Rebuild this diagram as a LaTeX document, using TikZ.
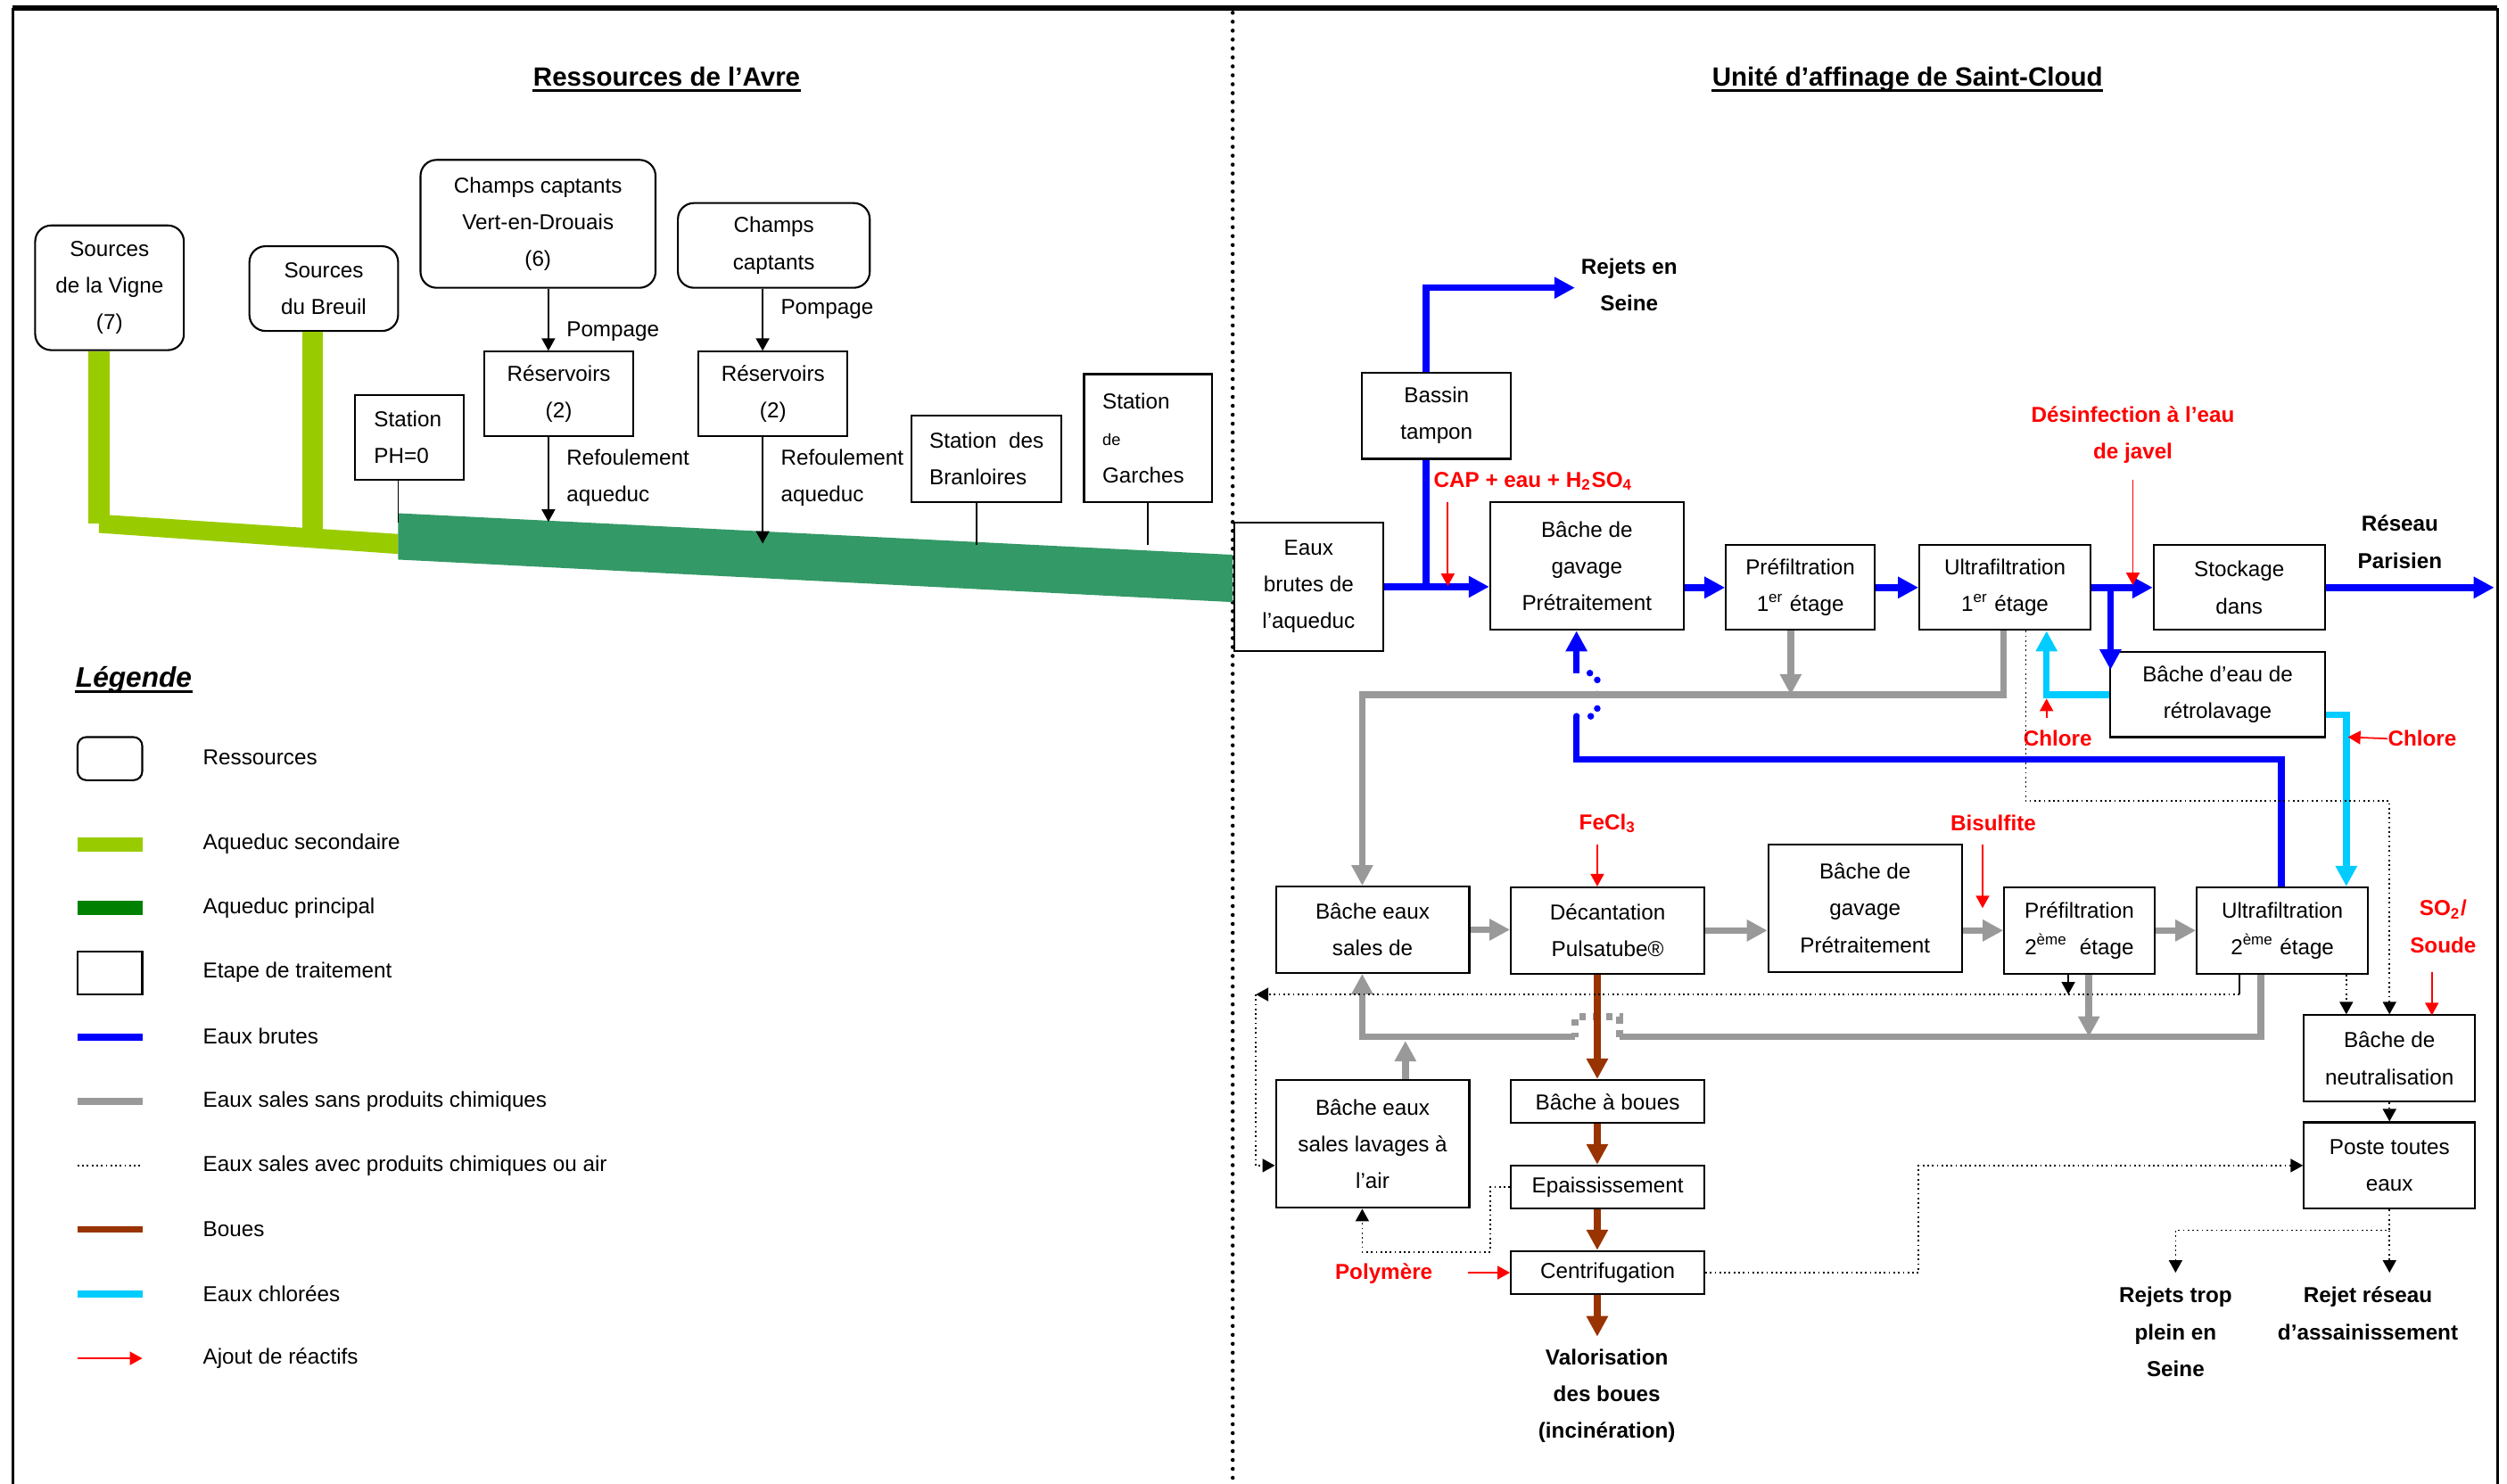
\documentclass[tikz,border=0pt]{standalone}
\usepackage{fontspec}
\setmainfont{Liberation Sans}
\usetikzlibrary{arrows.meta}
\def\u{0.17927mm}
\definecolor{lgreen}{HTML}{99CC00}
\definecolor{mgreen}{HTML}{339966}
\definecolor{dgreen}{HTML}{008000}
\definecolor{fblue}{HTML}{0000FF}
\definecolor{fgray}{HTML}{999999}
\definecolor{fbrown}{HTML}{993300}
\definecolor{fcyan}{HTML}{00CCFF}
\definecolor{fred}{HTML}{FF0000}
\newcommand\boxfont{\fontsize{6.9}{11.73}\selectfont}
\begin{document}
\begin{tikzpicture}[x=0.17927mm, y=-0.17927mm,
  box/.style={draw, line width=0.6pt, inner sep=0pt, align=center, font=\boxfont},
  rbox/.style={box, rounded corners=1.8mm},
  lbox/.style={draw, line width=0.6pt, inner ysep=0pt, align=left, font=\boxfont},
  wh/.style 2 args={minimum width=#1*\u, minimum height=#2*\u},
  lab/.style={inner sep=0pt, align=center, font=\boxfont\bfseries},
  rlab/.style={lab, text=fred},
  txt/.style={inner sep=0pt, align=left, font=\boxfont},
  pipe/.style={line width=0.75mm},
  flow/.style={line width=0.75mm, -{Triangle[length=2.3mm,width=2.3mm]}},
  wb/.style={draw=fblue},
  ws/.style={draw=fgray},
  wm/.style={draw=fbrown},
  wc/.style={draw=fcyan},
  tarr/.style={line width=0.5pt, -{Triangle[length=1.4mm,width=1.5mm]}},
  tred/.style={draw=fred, fill=fred, line width=0.5pt, -{Triangle[length=1.4mm,width=1.5mm]}},
  dotl/.style={line width=0.5pt, dash pattern=on 0.5pt off 1pt},
  divider/.style={line width=1.3pt, line cap=round, dash pattern=on 0pt off 2.85pt},
  title/.style={inner sep=0pt, anchor=base, font=\fontsize{8.4}{10}\selectfont\bfseries}
]
\fill[white] (0,0) rectangle (1568,928);
\useasboundingbox (0,0) rectangle (1568,928);

% ---------- frame and separator ----------
\draw[line width=1.5pt] (8,5) -- (1562,5);
\draw[line width=1pt] (8,5) -- (8,928);
\draw[line width=1pt] (1562,5) -- (1562,928);
\draw[divider] (771,8) -- (771,928);

% ---------- titles ----------
\node[title] (t1) at (417,54) {Ressources de l’Avre};
\draw[line width=0.75pt] ([yshift=-1.4pt]t1.base west) -- ([yshift=-1.4pt]t1.base east);
\node[title] (t2) at (1193,54) {Unité d’affinage de Saint-Cloud};
\draw[line width=0.75pt] ([yshift=-1.4pt]t2.base west) -- ([yshift=-1.4pt]t2.base east);

% ---------- resources ----------
\node[rbox, wh={93}{78}] (vigne) at (68.5,180) {Sources\\de la Vigne\\(7)};
\node[rbox, wh={93}{53}] (breuil) at (202.5,180.5) {Sources\\du Breuil};
\node[rbox, wh={147}{80}] (vert) at (336.5,140) {Champs captants\\Vert-en-Drouais\\(6)};
\node[rbox, wh={120}{53}] (chpc) at (484,153.5) {Champs\\captants};
\node[box, wh={93}{53}] (res1) at (349.5,246.5) {Réservoirs\\(2)};
\node[box, wh={93}{53}] (res2) at (483.5,246.5) {Réservoirs\\(2)};
\node[lbox, inner xsep=2.15mm, text width=7.89mm, minimum height=53*\u] (ph0) at (256,273.5) {Station\\PH=0};
\node[lbox, inner xsep=0pt, wh={94}{54}] (bran) at (617,287) {Station\ \ des\\Branloires};
\node[lbox, inner xsep=2.06mm, text width=10.22mm, minimum height=80*\u] (garch) at (718,274) {Station\\{\fontsize{5.2}{6}\selectfont de}\\Garches};

% ---------- aqueducts ----------
\coordinate (av) at (62,327.5);
\coordinate (ab) at (195.7,331);
\draw[lgreen, line width=2.4mm] (vigne.south -| av) -- (av);
\draw[lgreen, line width=2.3mm] (breuil.south -| ab) -- (ab);
\fill[lgreen] (61.8,321.7) -- (249,334) -- (249,346.5) -- (61.8,333.3) -- cycle;
\fill[mgreen] (249,321) -- (771,347) -- (771,376.6) -- (249,350) -- cycle;

% ---------- pumping and delivery ----------
\coordinate (xa) at (343,0);
\coordinate (xb) at (477,0);
\coordinate (r1end) at (343,326.4);
\coordinate (r2end) at (477,340);
\coordinate (phend) at (249,327);
\coordinate (brend) at (611,341);
\coordinate (gaend) at (718,341);
\draw[tarr] (vert.south -| xa) -- (res1.north -| xa);
\draw[tarr] (chpc.south -| xb) -- (res2.north -| xb);
\draw[tarr] (res1.south -| xa) -- (r1end);
\draw[tarr] (res2.south -| xb) -- (r2end);
\draw[line width=0.5pt] (ph0.south -| phend) -- (phend);
\draw[line width=0.5pt] (bran.south -| brend) -- (brend);
\draw[line width=0.5pt] (garch.south -| gaend) -- (gaend);
\node[txt, anchor=west] (pomp1) at (354,207.4) {Pompage};
\node[txt, anchor=west] (pomp2) at (488,193.6) {Pompage};
\node[txt, anchor=west] (ref1) at (354,299) {Refoulement\\aqueduc};
\node[txt, anchor=west] (ref2) at (488,299) {Refoulement\\aqueduc};

% ---------- legend ----------
\node[inner sep=0pt, anchor=base west, font=\fontsize{9}{10}\selectfont\bfseries\itshape] (leg) at (47,430) {Légende};
\draw[line width=0.85pt] ([yshift=-1.2pt]leg.base west) -- ([yshift=-1.2pt]leg.base east);
\draw[line width=0.6pt, rounded corners=1mm] (48.5,461) rectangle (89,488);
\draw[lgreen, line width=1.61mm] (48.5,528) -- (89,528);
\draw[dgreen, line width=1.61mm] (48.5,568) -- (89,568);
\draw[line width=0.6pt] (48.5,595) rectangle (89,622);
\draw[fblue, line width=0.8mm] (48.5,648.5) -- (89,648.5);
\draw[fgray, line width=0.75mm] (48.5,689) -- (89,689);
\draw[dotl] (48.5,729) -- (89,729);
\draw[fbrown, line width=0.75mm] (48.5,769) -- (89,769);
\draw[fcyan, line width=0.8mm] (48.5,809.5) -- (89,809.5);
\draw[tred] (48.5,849.6) -- (89,849.6);
\node[txt, anchor=west] (l1) at (126.6,474) {Ressources};
\node[txt, anchor=west] (l2) at (126.6,528) {Aqueduc secondaire};
\node[txt, anchor=west] (l3) at (126.6,568) {Aqueduc principal};
\node[txt, anchor=west] (l4) at (126.6,608) {Etape de traitement};
\node[txt, anchor=west] (l5) at (126.6,648) {Eaux brutes};
\node[txt, anchor=west] (l6) at (126.6,689) {Eaux sales sans produits chimiques};
\node[txt, anchor=west] (l7) at (126.6,729) {Eaux sales avec produits chimiques ou air};
\node[txt, anchor=west] (l8) at (126.6,769) {Boues};
\node[txt, anchor=west] (l9) at (126.6,809) {Eaux chlorées};
\node[txt, anchor=west] (l10) at (126.6,849.6) {Ajout de réactifs};

% ---------- treatment units ----------
\node[box, wh={93}{80}] (eb) at (818.5,367) {Eaux\\brutes de\\l’aqueduc};
\node[box, wh={93}{54}] (bt) at (898.5,260) {Bassin\\tampon};
\node[box, wh={121}{80}] (g1) at (992.5,354) {Bâche de\\gavage\\Prétraitement};
\node[box, wh={93}{53}] (p1) at (1126,367.5) {Préfiltration\\1\textsuperscript{er} étage};
\node[box, wh={107}{53}] (u1) at (1254,367.5) {Ultrafiltration\\1\textsuperscript{er} étage};
\node[box, wh={107}{53}] (st) at (1400.5,367.5) {Stockage\\dans};
\node[box, wh={134}{53}] (br) at (1387,434.5) {Bâche d’eau de\\rétrolavage};
\node[box, wh={121}{54}] (bs) at (858.5,581.5) {Bâche eaux\\sales de};
\node[box, wh={121}{54}] (dec) at (1005.5,582) {Décantation\\Pulsatube®};
\node[box, wh={121}{80}] (g2) at (1166.5,568) {Bâche de\\gavage\\Prétraitement};
\node[box, wh={94}{54}] (p2) at (1300.5,582) {Préfiltration\\2\textsuperscript{ème}\ \ étage};
\node[box, wh={107}{54}] (u2) at (1427.5,582) {Ultrafiltration\\2\textsuperscript{ème} étage};
\node[box, wh={107}{54}] (neut) at (1494.5,662) {Bâche de\\neutralisation};
\node[box, wh={107}{54}] (pte) at (1494.5,729) {Poste toutes\\eaux};
\node[box, wh={121}{80}] (bsl) at (858.5,715.5) {Bâche eaux\\sales lavages à\\l’air};
\node[box, wh={121}{27}] (bab) at (1005.5,689) {Bâche à boues};
\node[box, wh={121}{27}] (ep) at (1005.5,742.5) {Epaississement};
\node[box, wh={121}{27}] (cen) at (1005.5,796) {Centrifugation};

% ---------- outlet and reagent labels ----------
\node[lab] (rejs) at (1019,178) {Rejets en\\Seine};
\node[lab] (resp) at (1501,339) {Réseau\\Parisien};
\node[lab] (valo) at (1005,873) {Valorisation\\des boues\\(incinération)};
\node[lab] (rtp) at (1360.7,833) {Rejets trop\\plein en\\Seine};
\node[lab] (rra) at (1481,821.5) {Rejet réseau\\d’assainissement};
\node[rlab] (desinf) at (1334,272) {Désinfection à l’eau\\de javel};
\node[rlab] (cap) at (959,301) {CAP + eau + H\textsubscript{2}SO\textsubscript{4}};
\node[rlab] (chl1) at (1287,462) {Chlore};
\node[rlab] (chl2) at (1515,462) {Chlore};
\node[rlab] (fecl) at (1005.5,515) {FeCl\textsubscript{3}};
\node[rlab] (bisul) at (1246.7,515) {Bisulfite};
\node[rlab] (so2) at (1528,579.5) {SO\textsubscript{2}/\\Soude};
\node[rlab] (poly) at (865.5,796.5) {Polymère};

% ---------- raw water (blue) ----------
\coordinate (xbt) at (892,0);
\coordinate (rejc) at (892,180);
\coordinate (rejtip) at (985,180);
\coordinate (brtip) at (1320,419);
\coordinate (restip) at (1560,367.5);
\draw[wb, pipe] (bt.south -| xbt) -- (xbt |- eb.east);
\draw[wb, flow] (bt.north -| xbt) -- (rejc) -- (rejtip);
\draw[wb, flow] (eb.east) -- (g1.west |- eb.east);
\draw[wb, flow] (g1.east |- p1.west) -- (p1.west);
\draw[wb, flow] (p1.east) -- (u1.west);
\draw[wb, flow] (u1.east) -- (st.west);
\draw[wb, flow] (u1.east -| brtip) -- (brtip);
\draw[wb, flow] (st.east) -- (restip);
\coordinate (rb1) at (1427,475);
\coordinate (rb2) at (986,475);
\coordinate (rb3) at (986,448);
\coordinate (rb4) at (999,448);
\coordinate (rb5) at (999,421);
\coordinate (rb6) at (986,421);
\draw[wb, pipe] (u2.north -| rb1) -- (rb1) -- (rb2) -- (rb3);
\draw[wb, line width=0.75mm, line cap=round, dash pattern=on 0pt off 1.6mm] (rb3) -- (rb4) -- (rb5) -- (rb6);
\draw[wb, flow] (rb6) -- (g1.south -| rb6);

% ---------- dirty water without chemicals (gray) ----------
\coordinate (gp1) at (1120,434.5);
\coordinate (gu1) at (1253,434.5);
\coordinate (gl1) at (852,434.5);
\draw[ws, flow] (p1.south -| gp1) -- (gp1);
\draw[ws, flow] (u1.south -| gu1) -- (gu1) -- (gl1) -- (bs.north -| gl1);
\draw[ws, flow] (bs.east) -- (dec.west |- bs.east);
\draw[ws, flow] (dec.east) -- (g2.west |- dec.east);
\draw[ws, flow] (g2.east |- p2.west) -- (p2.west);
\draw[ws, flow] (p2.east) -- (u2.west);
\coordinate (gp2) at (1306.5,648.5);
\coordinate (gu2) at (1414,648.5);
\coordinate (gb1) at (1013,648.5);
\coordinate (gb2) at (1013,636);
\coordinate (gb3) at (985,636);
\coordinate (gb4) at (985,648.5);
\coordinate (gl2) at (852,648.5);
\coordinate (gbl) at (879,651);
\draw[ws, flow] (p2.south -| gp2) -- (gp2);
\draw[ws, pipe] (u2.south -| gu2) -- (gu2) -- (gb1);
\draw[ws, line width=0.75mm, dash pattern=on 0.75mm off 0.75mm] (gb1) -- (gb2) -- (gb3) -- (gb4);
\draw[ws, flow] (gb4) -- (gl2) -- (bs.south -| gl2);
\draw[ws, flow] (bsl.north -| gbl) -- (gbl);

% ---------- sludge (brown) ----------
\coordinate (xm) at (999,0);
\coordinate (valtip) at (999,836);
\draw[wm, flow] (dec.south -| xm) -- (bab.north -| xm);
\draw[wm, flow] (bab.south -| xm) -- (ep.north -| xm);
\draw[wm, flow] (ep.south -| xm) -- (cen.north -| xm);
\draw[wm, flow] (cen.south -| xm) -- (valtip);

% ---------- chlorinated water (cyan) ----------
\coordinate (cy1) at (1280,434.5);
\coordinate (cy2) at (1467.5,447);
\draw[wc, flow] (br.west) -- (cy1) -- (u1.south -| cy1);
\draw[wc, flow] (br.east |- cy2) -- (cy2) -- (u2.north -| cy2);

% ---------- reagents (red) ----------
\draw[tred] (905.5,314) -- (905.5,366.6);
\draw[tred] (1334,300) -- (1334,366);
\draw[tred] (1280,449) -- (1280,437);
\draw[tred] (chl2.west) -- (1468.5,461);
\draw[tred] (999,528) -- (dec.north -| xm);
\draw[tred] (1240,528) -- (1240,568);
\draw[tred] (1521,608) -- (1521,635);
\draw[tred] (918,796) -- (cen.west);

% ---------- dirty water with chemicals or air (dotted) ----------
\coordinate (d1) at (1267,501);
\coordinate (d2) at (1467.5,0);
\coordinate (d3) at (1400.6,622);
\coordinate (d4) at (785.5,622);
\coordinate (d5) at (1293.6,622);
\coordinate (d6) at (785.5,729);
\coordinate (e1) at (932,742.5);
\coordinate (e2) at (932,783);
\coordinate (e3) at (852,783);
\coordinate (c1) at (1200,796);
\coordinate (c2) at (1200,729);
\coordinate (q1) at (1494.5,769.5);
\coordinate (q2) at (1360.7,769.5);
\coordinate (q3) at (1360.7,796);
\coordinate (q4) at (1494.5,796);
\draw[dotl, tarr] (u1.south -| d1) -- (d1) -- (d1 -| neut.north) -- (neut.north);
\draw[dotl, tarr] (u2.south -| d2) -- (neut.north -| d2);
\draw[line width=0.5pt] (u2.south -| d3) -- (d3);
\draw[dotl, tarr] (d3) -- (d4);
\draw[tarr] (p2.south -| d5) -- (d5);
\draw[dotl, tarr] (d4) -- (d6) -- (d6 -| bsl.west);
\draw[dotl, tarr] (ep.west) -- (e1) -- (e2) -- (e3) -- (bsl.south -| e3);
\draw[dotl, tarr] (cen.east) -- (c1) -- (c2) -- (pte.west);
\draw[dotl, tarr] (neut.south) -- (pte.north);
\draw[dotl, tarr] (pte.south) -- (q1) -- (q2) -- (q3);
\draw[dotl, tarr] (q1) -- (q4);

\end{tikzpicture}
\end{document}
